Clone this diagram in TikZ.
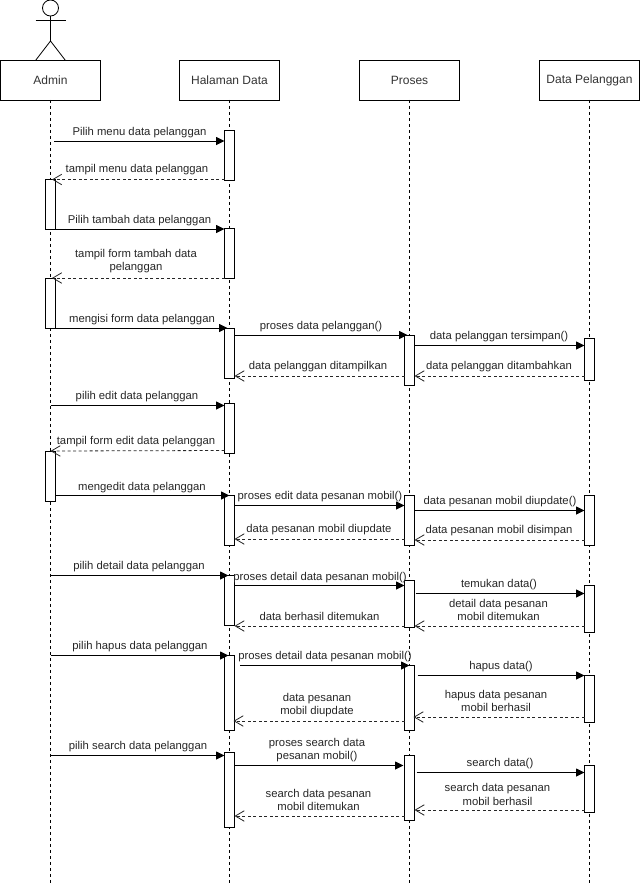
\documentclass[tikz,border=0pt]{standalone}
\usepackage{fontspec}
\setmainfont{Liberation Sans}
\usetikzlibrary{arrows.meta, positioning}
\tikzset{
    headbox/.style={draw=black, fill=white, line width=0.9pt, minimum width=100pt, minimum height=39.5pt, inner sep=0pt, outer sep=0pt, text=black!80, font=\fontsize{12}{14}\selectfont},
    actbar/.style={draw=black, fill=white, line width=0.9pt, minimum width=10pt, inner sep=0pt, outer sep=0pt, anchor=north},
    lifeline/.style={draw=black, line width=0.8pt, dash pattern=on 3pt off 3pt},
    syncmsg/.style={draw=black, line width=0.9pt, -{Triangle[length=8.5pt,width=8pt]}},
    retmsg/.style={draw=black!85, line width=0.8pt, dash pattern=on 3pt off 2.5pt, -{Straight Barb[length=9pt,width=10.5pt]}},
    msglabel/.style={inner sep=0pt, align=center, yshift=-0.6pt, text=black!85, font=\fontsize{11.3}{13.3}\selectfont},
    stickman/.style={draw=black, line width=0.8pt}
}
\begin{document}
\begin{tikzpicture}[x=1pt, y=-1pt]
    \useasboundingbox (0,0) rectangle (641,886);

    % Actor
    \draw[stickman] (50.5,8) circle (8);
    \draw[stickman] (50.5,16) -- (50.5,41);
    \draw[stickman] (35.5,20) -- (65.5,20);
    \draw[stickman] (35.5,60.5) -- (50.5,41) -- (65.5,60.5);

    % Lifeline heads
    \node[headbox] (admin) at (50.5,80.2) {Admin};
    \node[headbox] (halaman) at (229.5,80.2) {Halaman Data};
    \node[headbox] (proses) at (409.5,80.2) {Proses};
    \node[headbox] (pelanggan) at (589.5,80.2) {Data Pelanggan};

    % Lifelines
    \coordinate (lifeEnd) at (0,883);
    \draw[lifeline] (admin.south) -- (admin.south |- lifeEnd);
    \draw[lifeline] (halaman.south) -- (halaman.south |- lifeEnd);
    \draw[lifeline] (proses.south) -- (proses.south |- lifeEnd);
    \draw[lifeline] (pelanggan.south) -- (pelanggan.south |- lifeEnd);

    % Activation bars
    \foreach \barname/\ytop/\ylen in {aBarA/179.5/50, aBarB/278/50, aBarC/451/50}
        \node[actbar, minimum height=\ylen pt] (\barname) at (50.5,\ytop) {};
    \foreach \barname/\ytop/\ylen in {hBarA/130.5/50, hBarB/228/50, hBarC/328.5/50, hBarD/403.5/50, hBarE/495.5/50, hBarF/575.5/50, hBarG/655.5/75, hBarH/752.5/75}
        \node[actbar, minimum height=\ylen pt] (\barname) at (229.5,\ytop) {};
    \foreach \barname/\ytop/\ylen in {pBarA/335/50, pBarB/495.5/50, pBarC/580/47, pBarD/665/65, pBarE/755/65}
        \node[actbar, minimum height=\ylen pt] (\barname) at (409.5,\ytop) {};
    \foreach \barname/\ytop/\ylen in {dBarA/338/42, dBarB/495.5/50, dBarC/585/47, dBarD/675/47, dBarE/765/47}
        \node[actbar, minimum height=\ylen pt] (\barname) at (589.5,\ytop) {};

    % Tambah data
    \draw[syncmsg] ([xshift=3.5pt]admin.south |- 0,141) -- (hBarA.west |- 0,141);
    \draw[retmsg] (hBarA.west |- 0,179.5) -- ([xshift=1.5pt]admin.south |- 0,179.5);
    \draw[syncmsg] (aBarA.east |- 0,229) -- (hBarB.west |- 0,229);
    \draw[retmsg] (hBarB.west |- 0,278) -- ([xshift=1.5pt]admin.south |- 0,278);
    \draw[syncmsg] (aBarB.east |- 0,328) -- ([xshift=3pt]hBarC.west |- 0,328);
    \draw[syncmsg] (hBarC.east |- 0,335) -- ([xshift=3pt]pBarA.west |- 0,335);
    \draw[syncmsg] (pBarA.east |- 0,345.5) -- (dBarA.west |- 0,345.5);
    \draw[retmsg] (dBarA.west |- 0,376) -- (pBarA.east |- 0,376);
    \draw[retmsg] (pBarA.west |- 0,376) -- (hBarC.east |- 0,376);

    % Edit data
    \draw[syncmsg] (admin.south |- 0,405.5) -- (hBarD.west |- 0,405.5);
    \draw[retmsg] (hBarD.west |- 0,450.5) -- (aBarC.north);
    \draw[syncmsg] (aBarC.east |- 0,495.5) -- ([xshift=5pt]hBarE.west |- 0,495.5);
    \draw[syncmsg] (hBarE.east |- 0,505.5) -- (pBarB.west |- 0,505.5);
    \draw[syncmsg] (pBarB.east |- 0,510.5) -- (dBarB.west |- 0,510.5);
    \draw[retmsg] (pBarB.west |- 0,539) -- (hBarE.east |- 0,539);
    \draw[retmsg] (dBarB.west |- 0,540) -- (pBarB.east |- 0,540);

    % Detail data
    \draw[syncmsg] (admin.south |- 0,575.5) -- ([xshift=4pt]hBarF.west |- 0,575.5);
    \draw[syncmsg] (hBarF.east |- 0,585.5) -- (pBarC.west |- 0,585.5);
    \draw[syncmsg] ([xshift=1pt]pBarC.east |- 0,593.5) -- (dBarC.west |- 0,593.5);
    \draw[retmsg] (pBarC.west |- 0,626) -- (hBarF.east |- 0,626);
    \draw[retmsg] (dBarC.west |- 0,626) -- (pBarC.east |- 0,626);

    % Hapus data
    \draw[syncmsg] (admin.south |- 0,655.5) -- ([xshift=4pt]hBarG.west |- 0,655.5);
    \draw[syncmsg] ([xshift=5.5pt]hBarG.east |- 0,665.5) -- ([xshift=5pt]pBarD.west |- 0,665.5);
    \draw[syncmsg] ([xshift=3pt]pBarD.east |- 0,675.5) -- (dBarD.west |- 0,675.5);
    \draw[retmsg] (dBarD.west |- 0,717) -- ([xshift=-1pt]pBarD.east |- 0,717);
    \draw[retmsg] (pBarD.west |- 0,721) -- ([xshift=-1pt]hBarG.east |- 0,721);

    % Search data
    \draw[syncmsg] (admin.south |- 0,755.5) -- (hBarH.west |- 0,755.5);
    \draw[syncmsg] (hBarH.east |- 0,765.5) -- ([xshift=-1pt]pBarE.west |- 0,765.5);
    \draw[syncmsg] ([xshift=2pt]pBarE.east |- 0,772.5) -- (dBarE.west |- 0,772.5);
    \draw[retmsg] (dBarE.west |- 0,810) -- (pBarE.east |- 0,810);
    \draw[retmsg] (pBarE.west |- 0,816) -- (hBarH.east |- 0,816);

    % Message labels
    \node[msglabel] (lblMenu) at (139.5,132) {Pilih menu data pelanggan};
    \node[msglabel] (lblMenuBack) at (137,169) {tampil menu data pelanggan};
    \node[msglabel] (lblTambah) at (139.5,220) {Pilih tambah data pelanggan};
    \node[msglabel] (lblForm) at (136,260.5) {tampil form tambah data\\pelanggan};
    \node[msglabel] (lblIsi) at (142,318.5) {mengisi form data pelanggan};
    \node[msglabel] (lblProses) at (321,326) {proses data pelanggan()};
    \node[msglabel] (lblSimpan) at (499,336) {data pelanggan tersimpan()};
    \node[msglabel] (lblAdded) at (499,366) {data pelanggan ditambahkan};
    \node[msglabel] (lblShown) at (318,366) {data pelanggan ditampilkan};

    \node[msglabel] (lblEdit) at (137,396) {pilih edit data pelanggan};
    \node[msglabel] (lblEditForm) at (136,441) {tampil form edit data pelanggan};
    \node[msglabel] (lblMengedit) at (142,486.5) {mengedit data pelanggan};
    \node[msglabel] (lblProsesEdit) at (320,496) {proses edit data pesanan mobil()};
    \node[msglabel] (lblUpdate) at (500,501) {data pesanan mobil diupdate()};
    \node[msglabel] (lblUpdated) at (319,529) {data pesanan mobil diupdate};
    \node[msglabel] (lblStored) at (499,530) {data pesanan mobil disimpan};

    \node[msglabel] (lblDetail) at (139,566) {pilih detail data pelanggan};
    \node[msglabel] (lblProsesDetail) at (320,576.5) {proses detail data pesanan mobil()};
    \node[msglabel] (lblFind) at (499,584) {temukan data()};
    \node[msglabel] (lblFound) at (319.5,616) {data berhasil ditemukan};
    \node[msglabel] (lblDetailBack) at (498.5,609.5) {detail data pesanan\\mobil ditemukan};

    \node[msglabel] (lblHapus) at (140,646) {pilih hapus data pelanggan};
    \node[msglabel] (lblProsesHapus) at (325,656) {proses detail data pesanan mobil()};
    \node[msglabel] (lblDelete) at (501,666) {hapus data()};
    \node[msglabel] (lblDeleted) at (496,700.5) {hapus data pesanan\\mobil berhasil};
    \node[msglabel] (lblHapusBack) at (317,704.5) {data pesanan\\mobil diupdate};

    \node[msglabel] (lblSearch) at (138,746) {pilih search data pelanggan};
    \node[msglabel] (lblProsesSearch) at (317,749.5) {proses search data\\pesanan mobil()};
    \node[msglabel] (lblFindData) at (500,763) {search data()};
    \node[msglabel] (lblSearchOk) at (497.5,794) {search data pesanan\\mobil berhasil};
    \node[msglabel] (lblSearchBack) at (318.5,799.5) {search data pesanan\\mobil ditemukan};
\end{tikzpicture}
\end{document}
